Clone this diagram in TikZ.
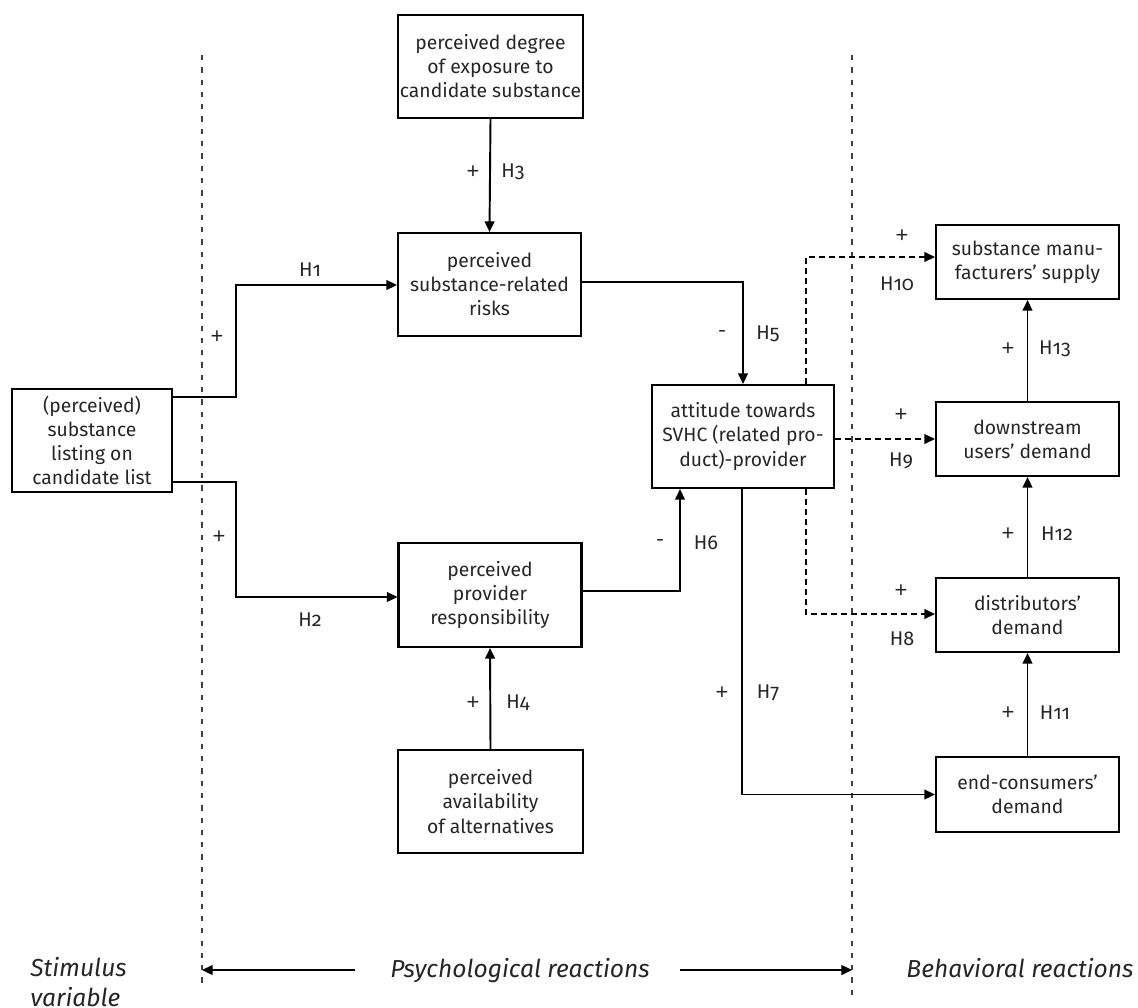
\documentclass[tikz,border=0pt]{standalone}
\usepackage{fontspec}
\setmainfont{Fira Sans}[Numbers=OldStyle]
\newfontfamily\signfont{Liberation Sans}
\usetikzlibrary{arrows.meta}
\begin{document}
\begin{tikzpicture}[x=0.02cm,y=-0.02cm,
  font=\fontsize{11}{13.7}\selectfont,
  box/.style={draw,line width=1.2pt,align=center,inner sep=0pt,text=black!85,
              minimum width=3.66cm,minimum height=2.06cm},
  sbox/.style={box,minimum height=1.48cm},
  arr/.style={line width=1.1pt,-{Triangle[length=6pt,width=5.5pt]}},
  darr/.style={line width=0.9pt,dash pattern=on 3.2pt off 2.5pt,-{Triangle[length=6pt,width=5.5pt]}},
  divider/.style={line width=0.6pt,black!75,dash pattern=on 3pt off 4pt},
  lab/.style={inner sep=0pt,text=black!85,font=\fontsize{11.3}{13.7}\selectfont},
  sign/.style={inner sep=0pt,text=black!85,font=\signfont\fontsize{12.5}{13}\selectfont},
  captext/.style={inner sep=0pt,text=black!85,font=\fontsize{14}{17}\selectfont\itshape}]
\useasboundingbox (0,0) rectangle (1138,1007);

% dividers
\coordinate (d1t) at (202,55);  \coordinate (d1b) at (202,988);
\coordinate (d2t) at (852,55);  \coordinate (d2b) at (852,1000);
\draw[divider] (d1t) -- (d1b);
\draw[divider] (d2t) -- (d2b);

% boxes
\node[box,minimum width=3.2cm] (stim) at (92,440.5) {(perceived)\\substance\\listing on\\candidate list};
\node[box,minimum width=3.7cm] (expo) at (490.5,66.5) {perceived degree\\of exposure to\\candidate substance};
\node[box] (risk) at (489.5,284.5) {perceived\\substance-related\\risks};
\node[box,minimum height=2.08cm] (prov) at (490,595) {perceived\\provider\\responsibility};
\node[box,minimum width=3.7cm] (alt) at (490.5,801.5) {perceived\\availability\\of alternatives};
\node[box,minimum width=3.64cm] (att) at (743,436.5) {attitude towards\\SVHC (related pro-\\duct)-provider};
\node[sbox] (manu) at (1027.5,262) {substance manu-\\facturers’ supply};
\node[sbox] (down) at (1027.5,439) {downstream\\users’ demand};
\node[sbox] (dist) at (1027.5,615) {distributors’\\demand};
\node[sbox,minimum height=1.5cm] (endc) at (1027.5,794.5) {end-consumers’\\demand};

% solid connectors
\draw[arr] (stim.east |- 0,397) -| (236,285) -- (risk.west |- 0,285);
\draw[arr] (stim.east |- 0,482) -| (236,597) -- (prov.west |- 0,597);
\draw[arr] (expo.south) -- (risk.north);
\draw[arr] (alt.north) -- (prov.south);
\draw[arr] (risk.east |- 0,282) -| (att.north);
\draw[arr] (prov.east |- 0,591) -| (att.south -| 680,0);
\draw[arr] (att.south -| 742,0) |- (endc.west);
\draw[arr] (down.north) -- (manu.south);
\draw[arr] (dist.north) -- (down.south);
\draw[arr] (endc.north) -- (dist.south);

% dashed connectors
\draw[darr] (att.north -| 806,0) |- (manu.west |- 0,257);
\draw[darr] (att.east |- 0,439) -- (down.west |- 0,439);
\draw[darr] (att.south -| 806,0) |- (dist.west |- 0,614);

% labels
\node[sign] (p1) at (217,337) {+};  \node[lab] (h1) at (310,270) {H1};
\node[sign] (p2) at (219,537) {+};  \node[lab] (h2) at (310,620) {H2};
\node[sign] (p3) at (473,172) {+};  \node[lab] (h3) at (513,172) {H3};
\node[sign] (p4) at (473,703) {+};  \node[lab] (h4) at (518,703) {H4};
\node[lab] (p5) at (722,334) {-};  \node[lab] (h5) at (768,334) {H5};
\node[lab] (p6) at (660,543) {-};  \node[lab] (h6) at (706,543) {H6};
\node[sign] (p7) at (722,693) {+};  \node[lab] (h7) at (768,693) {H7};
\node[sign] (p8) at (901,591) {+};  \node[lab] (h8) at (902,639) {H8};
\node[sign] (p9) at (901,415) {+};  \node[lab] (h9) at (901,461) {H9};
\node[sign] (p10) at (902,236) {+}; \node[lab] (h10) at (897,284) {H10};
\node[sign] (p11) at (1008,713) {+}; \node[lab] (h11) at (1055,713) {H11};
\node[sign] (p12) at (1008,534) {+}; \node[lab] (h12) at (1057,534) {H12};
\node[sign] (p13) at (1008,349) {+}; \node[lab] (h13) at (1055,349) {H13};

% bottom captions
\node[captext,align=left,anchor=north west] (stimlab) at (30,957) {Stimulus\\variable};
\node[captext,anchor=base] (psych) at (520,977) {Psychological reactions};
\node[captext,anchor=base] (behav) at (1020,977) {Behavioral reactions};
\coordinate (la) at (355,970);
\coordinate (ra) at (680,970);
\draw[arr] (la) -- (d1t |- la);
\draw[arr] (ra) -- (d2t |- ra);
\end{tikzpicture}
\end{document}
